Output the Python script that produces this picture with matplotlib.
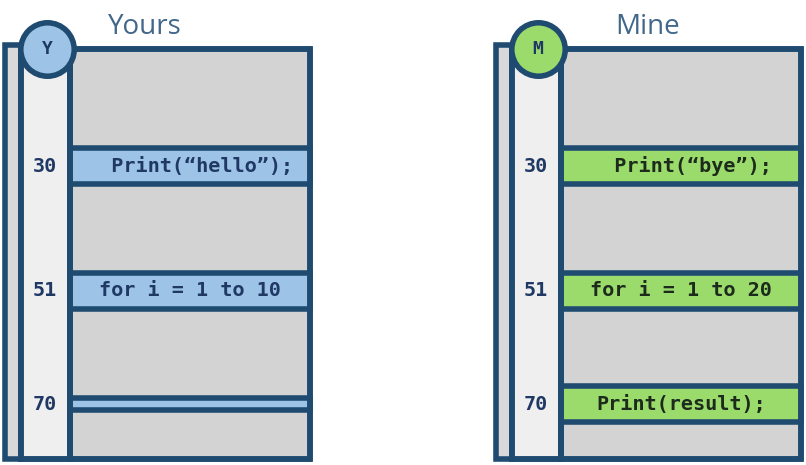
import matplotlib.pyplot as plt
from matplotlib.patches import Rectangle

# 两个面板的数据
panel_titles = ['Yours', 'Mine']
badge_letters = ['Y', 'M']
line_numbers = [30, 51, 70]
yours_code = ['  Print(“hello”);', 'for i = 1 to 10', '']
mine_code = ['  Print(“bye”);', 'for i = 1 to 20', 'Print(result);']
code_rows = [yours_code, mine_code]
fill_colors = ['#9dc3e6', '#9bdb6c']
code_colors = ['#1f3864', '#1c2b1c']

# 样式
navy = '#1f4b70'
lw = 4.0
panel_x = [0, 491]
title_x = [145, 648]
top_line, bottom_line = 10.3, 79.3

fig = plt.figure(figsize=(8.06, 4.65), dpi=100)
ax = fig.add_axes([0, 0, 1, 1])
ax.set_xlim(0, 806)
ax.set_ylim(80.25, 2.10)  # y轴用源码行号作单位
ax.axis('off')

for i in range(2):
    x0 = panel_x[i]
    strip_l, gut_l, gut_r, right = x0 + 4.5, x0 + 20.5, x0 + 69.5, x0 + 310
    h = bottom_line - top_line
    # 左侧细条、行号栏、代码区
    ax.add_patch(Rectangle((strip_l, top_line - 0.6), gut_l - strip_l, h + 0.6,
                           facecolor='#d9d9d9', edgecolor=navy, lw=lw, zorder=1))
    ax.add_patch(Rectangle((gut_l, top_line), gut_r - gut_l, h,
                           facecolor='#efefef', edgecolor=navy, lw=lw, zorder=1))
    ax.add_patch(Rectangle((gut_r, top_line), right - gut_r, h,
                           facecolor='#d3d3d3', edgecolor=navy, lw=lw, zorder=1))

    for n, code in zip(line_numbers, code_rows[i]):
        half = 3.1 if code else 1.0
        ax.add_patch(Rectangle((gut_r, n - half), right - gut_r, 2 * half,
                               facecolor=fill_colors[i], edgecolor=navy, lw=lw, zorder=2))
        ax.text((gut_l + gut_r) / 2, n, str(n), ha='center', va='center',
                family='DejaVu Sans Mono', weight='bold', fontsize=14.5,
                color='#1f3864', zorder=4)
        if code:
            ax.text((gut_r + right) / 2, n, code, ha='center', va='center',
                    family='DejaVu Sans Mono', weight='bold', fontsize=14.5,
                    color=code_colors[i], zorder=4)

    # 外框重画一遍, 盖住色带两端
    ax.add_patch(Rectangle((gut_r, top_line), right - gut_r, h,
                           facecolor='none', edgecolor=navy, lw=lw, zorder=3))
    ax.add_patch(Rectangle((gut_l, top_line), gut_r - gut_l, h,
                           facecolor='none', edgecolor=navy, lw=lw, zorder=3))

    # 圆形标记
    cx = x0 + 47
    ax.scatter([cx], [top_line], s=1480, facecolor=fill_colors[i],
               edgecolor=navy, linewidth=lw, zorder=5)
    ax.text(cx, top_line, badge_letters[i], ha='center', va='center',
            family='DejaVu Sans Mono', weight='bold', fontsize=13,
            color='#1f3864', zorder=6)

    ax.text(title_x[i], 6.6, panel_titles[i], ha='center', va='center',
            family='Open Sans', fontsize=20, color='#41678a')

fig.savefig('out.png', dpi=100)
